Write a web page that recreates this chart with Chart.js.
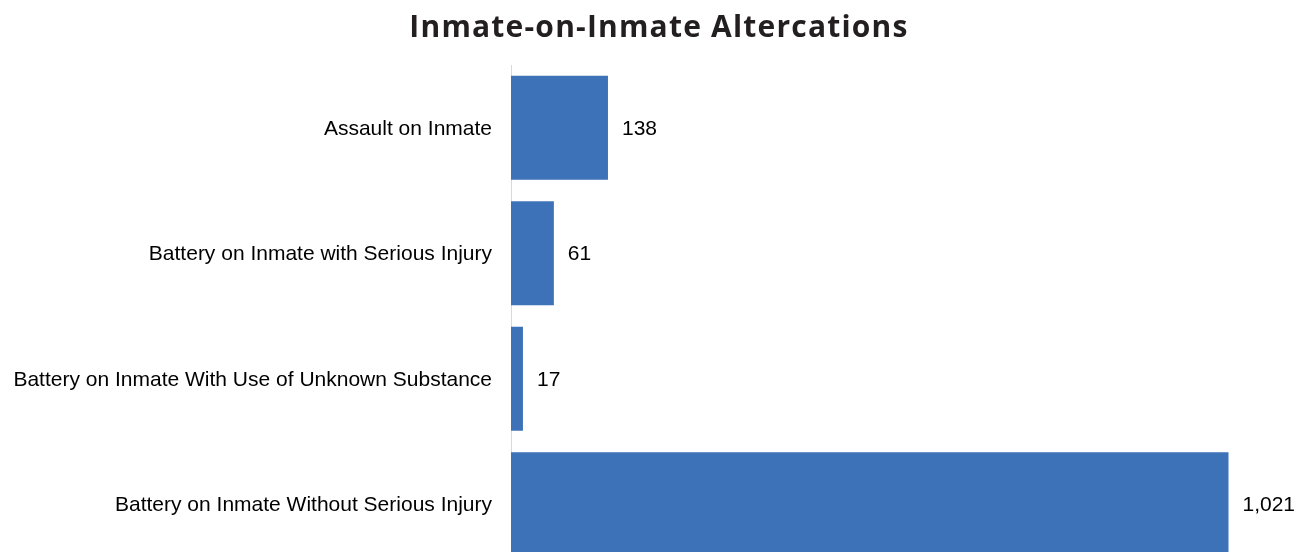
<!DOCTYPE html>
<html>
<head>
<meta charset="utf-8">
<script src="https://cdn.jsdelivr.net/npm/chart.js@4/dist/chart.umd.min.js"></script>
<style>
  html, body { margin: 0; padding: 0; background: #ffffff; overflow: hidden; }
  #wrap { position: relative; width: 1308px; height: 570px; }
  #title {
    position: absolute; top: 11px; left: 0; width: 1318px; margin: 0;
    text-align: center; font-family: "Open Sans", sans-serif; font-weight: 700;
    font-size: 30px; line-height: 30px; color: #231f20; letter-spacing: 1.2px;
    white-space: nowrap;
  }
  #c { position: absolute; left: 0; top: 0; }
</style>
</head>
<body>
<div id="wrap">
  <canvas id="c" width="1308" height="570"></canvas>
  <div id="title">Inmate-on-Inmate Altercations</div>
</div>
<script>
// Incident categories and counts
const categories = [
  "Assault on Inmate",
  "Battery on Inmate with Serious Injury",
  "Battery on Inmate With Use of Unknown Substance",
  "Battery on Inmate Without Serious Injury"
];
const counts = [138, 61, 17, 1021];

const BAR_COLOR = "#3d72b9";
const TEXT_FONT = "'Liberation Sans', Arial, sans-serif";
const TEXT_SIZE = 21;

// Writes each count just past the end of its bar
const valueLabels = {
  id: "valueLabels",
  afterDatasetsDraw(chart) {
    const ctx = chart.ctx;
    const meta = chart.getDatasetMeta(0);
    ctx.save();
    ctx.font = TEXT_SIZE + "px " + TEXT_FONT;
    ctx.fillStyle = "#000000";
    ctx.textAlign = "left";
    ctx.textBaseline = "middle";
    meta.data.forEach((bar, i) => {
      const v = chart.data.datasets[0].data[i];
      ctx.fillText(v.toLocaleString("en-US"), bar.x + 14, bar.y + 1);
    });
    ctx.restore();
  }
};

new Chart(document.getElementById("c"), {
  type: "bar",
  data: {
    labels: categories,
    datasets: [{
      data: counts,
      backgroundColor: BAR_COLOR,
      borderWidth: 0,
      categoryPercentage: 1.0,
      barPercentage: 0.83
    }]
  },
  options: {
    indexAxis: "y",
    responsive: false,
    animation: false,
    layout: { padding: { top: 65, right: 24, bottom: 3, left: 10 } },
    plugins: {
      legend: { display: false },
      title: { display: false },
      tooltip: { enabled: false }
    },
    scales: {
      x: {
        display: false,
        min: 0,
        max: 1100
      },
      y: {
        // fixed axis width; labels sit inside the band, so no extra vertical room is needed
        afterFit(scale) {
          scale.width = 501;
          scale.paddingTop = 0;
          scale.paddingBottom = 0;
        },
        grid: { display: false, drawTicks: false },
        border: { display: true, color: "#d9d9d9", width: 1 },
        ticks: {
          padding: 19,
          labelOffset: 1,
          color: "#000000",
          font: { family: TEXT_FONT, size: TEXT_SIZE }
        }
      }
    }
  },
  plugins: [valueLabels]
});
</script>
</body>
</html>
